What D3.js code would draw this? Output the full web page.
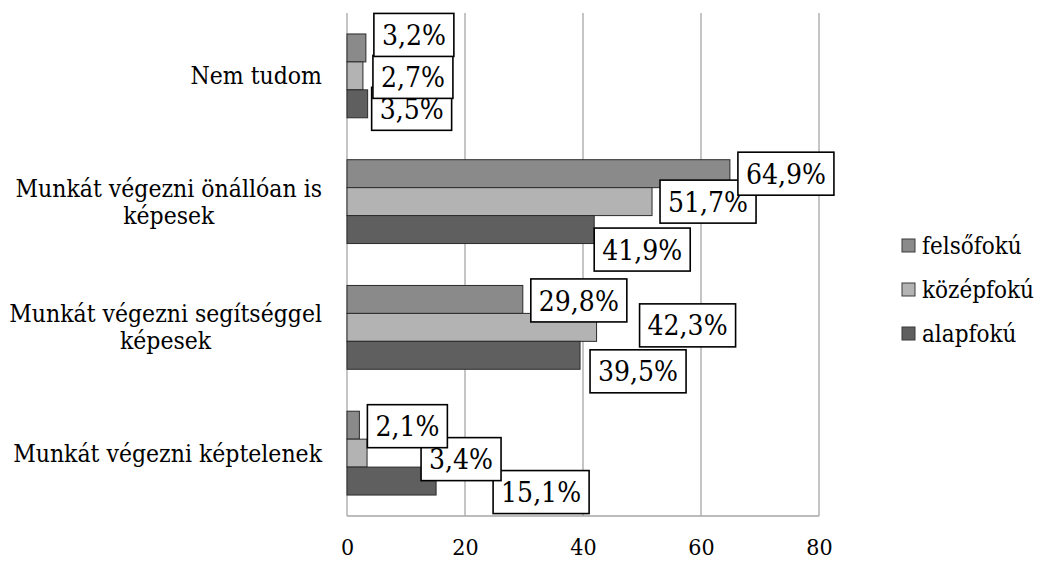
<!DOCTYPE html>
<html>
<head>
<meta charset="utf-8">
<script src="https://cdn.jsdelivr.net/npm/d3@7"></script>
<style>
  body { margin: 0; background: #fff; }
  svg { display: block; font-family: "DejaVu Serif Condensed", "DejaVu Serif", serif; font-stretch: condensed; }
</style>
</head>
<body>
<div id="chart"></div>
<script>
// Chart data
const categories = [
  "Nem tudom",
  "Munkát végezni önállóan is képesek",
  "Munkát végezni segítséggel képesek",
  "Munkát végezni képtelenek",
];
const categoryLines = [
  ["Nem tudom"],
  ["Munkát végezni önállóan is", "képesek"],
  ["Munkát végezni segítséggel", "képesek"],
  ["Munkát végezni képtelenek"],
];
const seriesNames = ["felsőfokú", "középfokú", "alapfokú"];
const felsofoku = [3.2, 64.9, 29.8, 2.1];
const kozepfoku = [2.7, 51.7, 42.3, 3.4];
const alapfoku = [3.5, 41.9, 39.5, 15.1];
const xTicks = [0, 20, 40, 60, 80];

// label nudges (px) copying the hand-placed labels of the original
const labelNudge = {
  "felsőfokú": [[0, -13], [0, 0], [0, 1], [0, 1]],
  "középfokú": [[2, 1], [0, 0], [35, -2], [46, 6]],
  "alapfokú": [[-4, 5], [-8, 20], [2, 16], [49, 11]],
};

const colors = {
  "felsőfokú": "#8a8a8a",
  "középfokú": "#b3b3b3",
  "alapfokú": "#5f5f5f",
};

const width = 1045;
const height = 562;
const plot = { left: 347, right: 819, top: 13, bottom: 516 };

const svg = d3
  .select("#chart")
  .append("svg")
  .attr("width", width)
  .attr("height", height);

const x = d3.scaleLinear().domain([0, 80]).range([plot.left, plot.right]);

const y0 = d3
  .scaleBand()
  .domain(categories)
  .range([plot.top, plot.bottom])
  .padding(0);

const y1 = d3
  .scaleBand()
  .domain(seriesNames)
  .range([0, y0.bandwidth()])
  .paddingInner(0)
  .paddingOuter(0.75);

const seriesValues = {
  "felsőfokú": felsofoku,
  "középfokú": kozepfoku,
  "alapfokú": alapfoku,
};

// Gridlines
svg
  .append("g")
  .selectAll("line")
  .data(xTicks)
  .join("line")
  .attr("x1", (d) => x(d))
  .attr("x2", (d) => x(d))
  .attr("y1", plot.top)
  .attr("y2", plot.bottom)
  .attr("stroke", "#a6a6a6")
  .attr("stroke-width", 1.3);

svg
  .append("line")
  .attr("x1", plot.left)
  .attr("x2", plot.right)
  .attr("y1", plot.bottom)
  .attr("y2", plot.bottom)
  .attr("stroke", "#a6a6a6")
  .attr("stroke-width", 1.3);

// X axis tick labels
const xAxis = d3.axisBottom(x).tickValues(xTicks).tickSize(0).tickPadding(23);
const xAxisG = svg
  .append("g")
  .attr("transform", `translate(0,${plot.bottom})`)
  .call(xAxis);
xAxisG.select(".domain").remove();
xAxisG.attr("font-family", null).attr("font-size", null);
xAxisG
  .selectAll("text")
  .attr("font-size", 23)
  .attr("fill", "#000");

// Bars
const rows = [];
seriesNames.forEach((s) => {
  categories.forEach((c, i) => {
    rows.push({ series: s, category: c, i, value: seriesValues[s][i] });
  });
});

svg
  .append("g")
  .selectAll("rect")
  .data(rows)
  .join("rect")
  .attr("x", x(0))
  .attr("y", (d) => y0(d.category) + y1(d.series))
  .attr("width", (d) => x(d.value) - x(0))
  .attr("height", y1.bandwidth())
  .attr("fill", (d) => colors[d.series])
  .attr("stroke", "#2b2b2b")
  .attr("stroke-width", 1);

// Category labels (multi-line, centred block, right aligned)
const labelRight = 322;
categories.forEach((c, i) => {
  const lines = categoryLines[i];
  const g = svg.append("g");
  const lineH = 27;
  const cy = y0(c) + y0.bandwidth() / 2;
  const texts = lines.map((ln, j) =>
    g
      .append("text")
      .attr("font-size", 24.5)
      .attr("text-anchor", "middle")
      .attr("y", cy + (j - (lines.length - 1) / 2) * lineH)
      .attr("dy", "0.35em")
      .text(ln)
  );
  const maxW = d3.max(texts, (t) => t.node().getComputedTextLength());
  texts.forEach((t) => t.attr("x", labelRight - maxW / 2));
});

// Data labels: drawn alapfokú first so the upper series sit on top
const labelOrder = ["alapfokú", "középfokú", "felsőfokú"];
const fmt = (v) => v.toFixed(1).replace(".", ",") + "%";
labelOrder.forEach((s) => {
  categories.forEach((c, i) => {
    const v = seriesValues[s][i];
    const [dx, dy] = labelNudge[s][i];
    const cy = y0(c) + y1(s) + y1.bandwidth() / 2 + dy;
    const left = x(v) + 8 + dx;
    const g = svg.append("g");
    const rect = g.append("rect");
    const t = g
      .append("text")
      .attr("font-size", 28)
      .attr("y", cy)
      .attr("dy", "0.36em")
      .attr("fill", "#000")
      .text(fmt(v));
    const w = t.node().getComputedTextLength();
    const pad = 8;
    t.attr("x", left + pad);
    rect
      .attr("x", left)
      .attr("y", cy - 21.5)
      .attr("width", w + pad * 2)
      .attr("height", 43)
      .attr("fill", "#fff")
      .attr("stroke", "#000")
      .attr("stroke-width", 1.6);
  });
});

// Legend
const legend = svg.append("g").attr("transform", "translate(902, 246)");
seriesNames.forEach((s, i) => {
  const g = legend.append("g").attr("transform", `translate(0, ${i * 44})`);
  g.append("rect")
    .attr("x", 0)
    .attr("y", -7)
    .attr("width", 13)
    .attr("height", 13)
    .attr("fill", colors[s])
    .attr("stroke", "#3a3a3a")
    .attr("stroke-width", 1);
  g.append("text")
    .attr("x", 20)
    .attr("y", 0)
    .attr("dy", "0.35em")
    .attr("font-size", 24)
    .text(s);
});
</script>
</body>
</html>
